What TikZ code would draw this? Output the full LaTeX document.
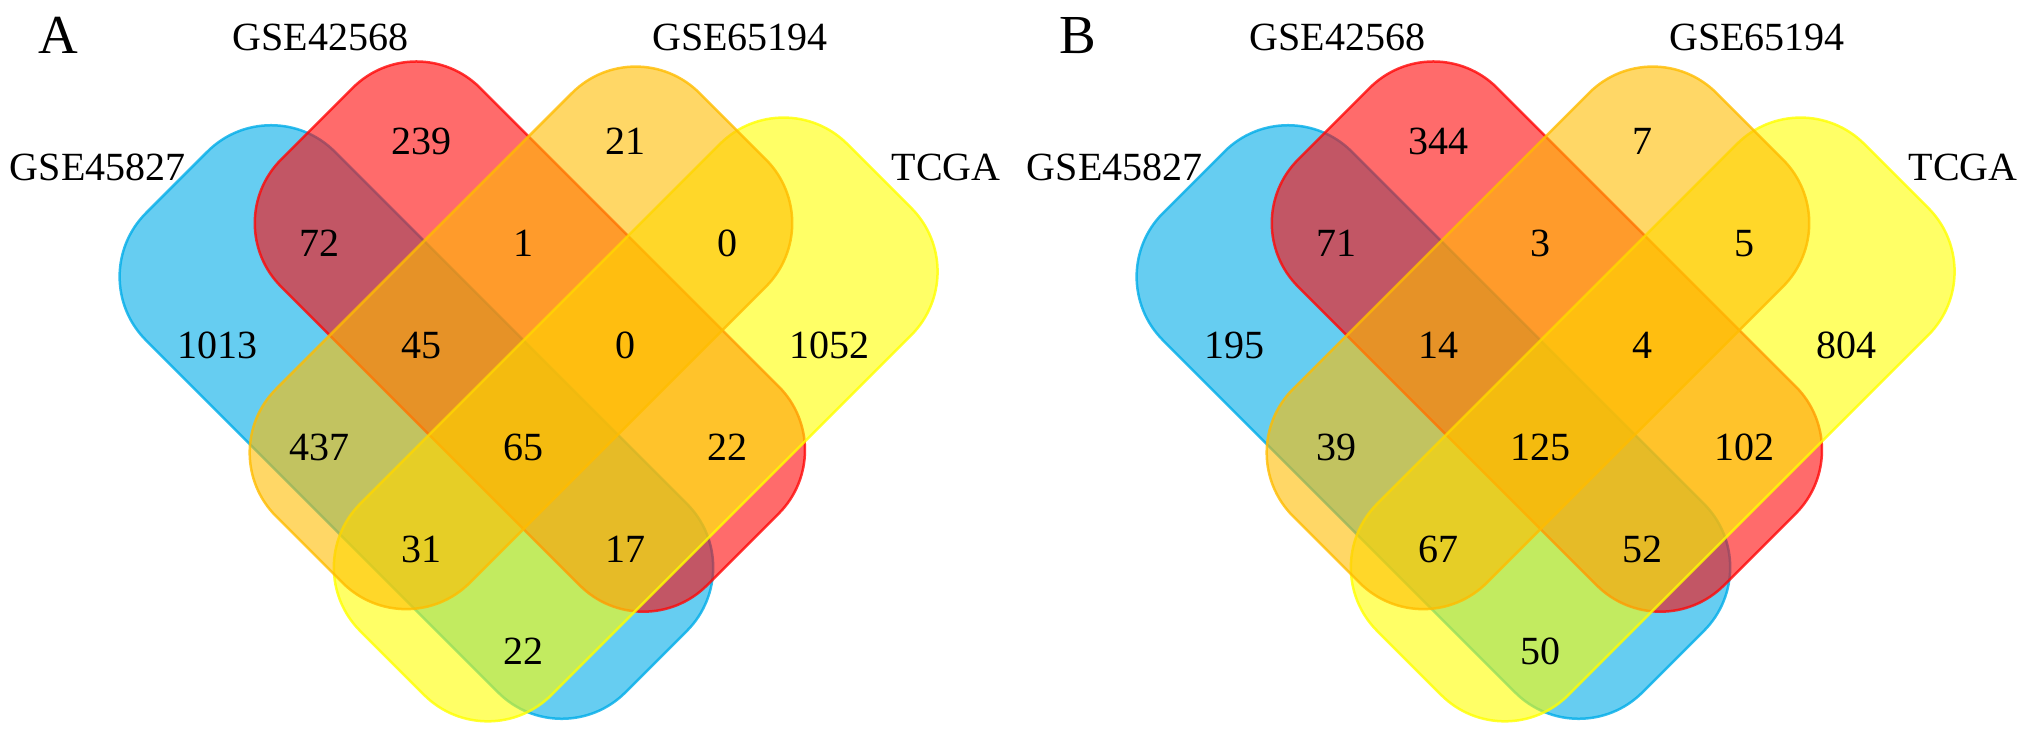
\documentclass[tikz,border=0pt]{standalone}
\usepackage{fontspec}
\setmainfont{Liberation Serif}
\definecolor{vblue}{RGB}{0,172,232}
\definecolor{vred}{RGB}{255,8,8}
\definecolor{vorange}{RGB}{255,188,0}
\definecolor{vyellow}{RGB}{255,255,0}
\newcommand{\vennpanel}[3]{%
\begin{scope}[shift={(#1,447.5)}, x={(51pt,-51pt)}, y={(51pt,51pt)}]
  \filldraw[setshape, draw=vblue, fill=vblue] (-6.0,-2.65) -- (3.4,-2.65) -- (3.4,1.05) -- (-6.0,1.05) -- cycle;
  \filldraw[setshape, draw=vred, fill=vred] (-5.2,-0.8) -- (3.15,-0.8) -- (3.15,3.1) -- (-5.2,3.1) -- cycle;
  \filldraw[setshape, draw=vyellow, fill=vyellow] (-1.05,-3.4) -- (2.7,-3.4) -- (2.7,6.15) -- (-1.05,6.15) -- cycle;
  \filldraw[setshape, draw=vorange, fill=vorange] (-3.0,-3.1) -- (0.8,-3.1) -- (0.8,5.2) -- (-3.0,5.2) -- cycle;
  \foreach \s/\t/\v/\n in {#3} \node[num] (#2\n) at (\s,\t) {\v};
\end{scope}}
\begin{document}
\begin{tikzpicture}[x=1pt,y=-1pt,
  setshape/.style={line width=2.5pt, fill opacity=0.6, draw opacity=0.8, rounded corners=90pt},
  num/.style={font=\fontsize{40}{42}\selectfont, inner sep=0pt},
  setlabel/.style={font=\fontsize{40}{42}\selectfont, inner sep=0pt},
  panel/.style={font=\fontsize{55}{57}\selectfont, inner sep=0pt}]
\useasboundingbox (0,0) rectangle (2031,737);

% Panel A
\vennpanel{523.5}{An}{-4/-2/1013/1, -4/2/239/2, -2/4/21/3, 2/4/1052/4, -4/0/72/5, -2/2/1/6, 0/4/0/7, -2/0/45/8, 0/2/0/9, -2/-2/437/10, 0/0/65/11, 2/2/22/12, 0/-2/31/13, 2/0/17/14, 2/-2/22/15}
\node[panel] (Aletter) at (58.8,35.3) {A};
\node[setlabel] (Al1) at (97.7,167) {GSE45827};
\node[setlabel] (Al2) at (320.3,37.6) {GSE42568};
\node[setlabel] (Al3) at (740,37.6) {GSE65194};
\node[setlabel] (Al4) at (946,167) {TCGA};

% Panel B
\vennpanel{1540.5}{Bn}{-4/-2/195/1, -4/2/344/2, -2/4/7/3, 2/4/804/4, -4/0/71/5, -2/2/3/6, 0/4/5/7, -2/0/14/8, 0/2/4/9, -2/-2/39/10, 0/0/125/11, 2/2/102/12, 0/-2/67/13, 2/0/52/14, 2/-2/50/15}
\node[panel] (Bletter) at (1077.8,35.3) {B};
\node[setlabel] (Bl1) at (1114.7,167) {GSE45827};
\node[setlabel] (Bl2) at (1337.3,37.6) {GSE42568};
\node[setlabel] (Bl3) at (1757,37.6) {GSE65194};
\node[setlabel] (Bl4) at (1963,167) {TCGA};
\end{tikzpicture}
\end{document}
